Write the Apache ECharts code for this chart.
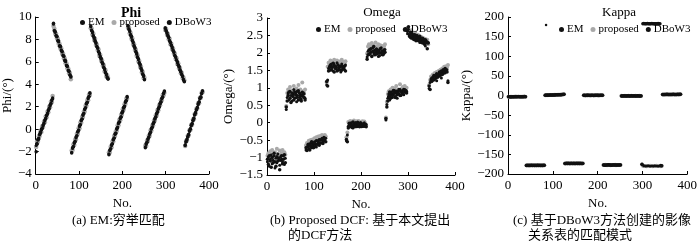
<!DOCTYPE html>
<html>
<head>
<meta charset="utf-8">
<script src="https://cdn.jsdelivr.net/npm/echarts@6/dist/echarts.min.js"></script>
<style>
  html, body { margin: 0; background: #fff; }
  #main { width: 700px; height: 241px; }
</style>
</head>
<body>
<div id="main"></div>
<script>
// frame numbers (every second frame of the sequence)
const frameNo = [];
for (let f = 1; f <= 385; f += 2) frameNo.push(f);

// Phi (deg)
const phiEM = [
  -1.45, -1.25, -0.98, -0.8, -0.52, -0.36, -0.1, 0.12, 0.3, 0.56, 0.74, 1.0, 1.18, 1.44, 1.62, 1.88, 2.06, 2.32, 2.5, 2.8,
  9.35, 8.82, 8.62, 8.38, 8.22, 7.93, 7.78, 7.48, 7.32, 7.08, 6.87, 6.62, 6.47, 6.18, 6.02, 5.72, 5.57, 5.28, 5.12, 4.88, 4.62,
  -2.05, -1.72, -1.52, -1.28, -1.06, -0.78, -0.56, -0.28, -0.06, 0.22, 0.44, 0.72, 0.93, 1.22, 1.43, 1.72, 1.93, 2.22, 2.43, 2.72, 2.93, 3.18,
  9.12, 8.87, 8.58, 8.37, 8.08, 7.92, 7.63, 7.42, 7.18, 6.97, 6.68, 6.52, 6.23, 6.02, 5.78, 5.57, 5.28, 5.12, 4.83, 4.67, 4.45,
  -2.2, -1.93, -1.72, -1.48, -1.27, -0.98, -0.77, -0.48, -0.32, -0.03, 0.18, 0.47, 0.68, 0.92, 1.13, 1.42, 1.63, 1.87, 2.08, 2.37, 2.58, 2.83,
  9.18, 8.97, 8.68, 8.47, 8.18, 7.97, 7.68, 7.47, 7.18, 6.97, 6.68, 6.47, 6.18, 5.97, 5.68, 5.47, 5.18, 4.97, 4.68, 4.45,
  -1.58, -1.37, -1.12, -0.92, -0.68, -0.47, -0.23, -0.02, 0.22, 0.43, 0.67, 0.88, 1.12, 1.33, 1.57, 1.78, 2.02, 2.23, 2.47, 2.68, 2.92, 3.13, 3.35,
  8.98, 8.82, 8.53, 8.37, 8.13, 7.92, 7.68, 7.52, 7.23, 7.07, 6.83, 6.62, 6.38, 6.22, 5.93, 5.77, 5.53, 5.32, 5.08, 4.92, 4.68, 4.47, 4.27,
  -1.38, -1.17, -0.88, -0.72, -0.43, -0.22, 0.07, 0.28, 0.52, 0.73, 1.02, 1.23, 1.52, 1.68, 1.97, 2.18, 2.47, 2.68, 2.92, 3.13, 3.38
];
const phiProposed = [
  -1.6, -1.1, -1.12, -0.65, -0.62, -0.22, -0.25, 0.25, 0.18, 0.68, 0.62, 1.12, 1.05, 1.55, 1.5, 2.0, 1.95, 2.45, 2.4, 2.95,
  9.2, 8.95, 8.5, 8.5, 8.08, 8.05, 7.62, 7.6, 7.18, 7.2, 6.72, 6.75, 6.3, 6.3, 5.88, 5.85, 5.42, 5.4, 4.98, 5.0, 4.45,
  -1.9, -1.85, -1.38, -1.42, -0.92, -0.92, -0.42, -0.42, 0.08, 0.08, 0.58, 0.58, 1.08, 1.08, 1.58, 1.58, 2.08, 2.08, 2.58, 2.58, 3.08, 3.05,
  9.0, 8.98, 8.45, 8.5, 7.95, 8.05, 7.5, 7.55, 7.05, 7.1, 6.55, 6.62, 6.1, 6.15, 5.65, 5.7, 5.15, 5.25, 4.7, 4.8, 4.55,
  -2.05, -2.08, -1.58, -1.62, -1.12, -1.1, -0.62, -0.62, -0.18, -0.15, 0.32, 0.35, 0.82, 0.8, 1.28, 1.28, 1.78, 1.75, 2.22, 2.25, 2.72, 2.7,
  9.05, 9.08, 8.55, 8.58, 8.05, 8.08, 7.55, 7.58, 7.05, 7.08, 6.55, 6.58, 6.05, 6.08, 5.55, 5.58, 5.05, 5.1, 4.55, 4.58,
  -1.45, -1.5, -1.02, -1.05, -0.58, -0.6, -0.12, -0.12, 0.32, 0.32, 0.78, 0.78, 1.22, 1.22, 1.68, 1.68, 2.12, 2.12, 2.58, 2.58, 3.02, 3.02, 3.25,
  8.85, 8.92, 8.42, 8.48, 8.02, 8.05, 7.58, 7.62, 7.12, 7.18, 6.72, 6.75, 6.28, 6.32, 5.82, 5.88, 5.42, 5.45, 4.98, 5.02, 4.55, 4.6, 4.35,
  -1.5, -1.05, -1.02, -0.58, -0.55, -0.1, -0.08, 0.4, 0.4, 0.85, 0.88, 1.35, 1.38, 1.82, 1.85, 2.3, 2.32, 2.8, 2.8, 3.25, 3.28
];
const phiDBoW3 = [
  -2.02, -1.35, -0.9, -0.88, -0.45, -0.28, -0.02, 0.05, 0.38, 0.48, 0.82, 0.92, 1.25, 1.35, 1.7, 1.8, 2.15, 2.25, 2.6, 2.72,
  9.45, 8.75, 8.7, 8.3, 8.28, 7.85, 7.85, 7.4, 7.4, 7.0, 6.95, 6.55, 6.52, 6.1, 6.1, 5.65, 5.62, 5.2, 5.18, 4.8, 4.72,
  -2.12, -1.65, -1.58, -1.2, -1.12, -0.7, -0.62, -0.2, -0.12, 0.3, 0.38, 0.8, 0.88, 1.3, 1.38, 1.8, 1.88, 2.3, 2.38, 2.8, 2.88, 3.25,
  9.2, 8.78, 8.68, 8.28, 8.18, 7.82, 7.72, 7.35, 7.25, 6.88, 6.78, 6.42, 6.32, 5.95, 5.85, 5.48, 5.38, 5.02, 4.92, 4.58, 4.5,
  -2.28, -1.85, -1.78, -1.4, -1.32, -0.9, -0.82, -0.42, -0.38, 0.05, 0.12, 0.55, 0.62, 1.0, 1.05, 1.48, 1.55, 1.95, 2.02, 2.45, 2.5, 2.9,
  9.25, 8.88, 8.78, 8.38, 8.28, 7.88, 7.78, 7.38, 7.28, 6.88, 6.78, 6.38, 6.28, 5.88, 5.78, 5.38, 5.28, 4.88, 4.78, 4.4,
  -1.65, -1.28, -1.2, -0.85, -0.75, -0.4, -0.3, 0.05, 0.15, 0.5, 0.6, 0.95, 1.05, 1.4, 1.5, 1.85, 1.95, 2.3, 2.4, 2.75, 2.85, 3.2, 3.4,
  9.05, 8.75, 8.62, 8.3, 8.2, 7.85, 7.75, 7.45, 7.32, 7.0, 6.9, 6.55, 6.45, 6.15, 6.02, 5.7, 5.6, 5.25, 5.15, 4.85, 4.75, 4.4, 4.22,
  -1.45, -1.1, -0.95, -0.65, -0.5, -0.15, 0.0, 0.35, 0.45, 0.8, 0.95, 1.3, 1.45, 1.75, 1.9, 2.25, 2.4, 2.75, 2.85, 3.2, 3.42
];

// Omega (deg)
const omegaEM = [
  -1.12, -0.98, -1.25, -1.05, -0.92, -1.18, -1.08, -0.95, -1.3, -1.02, -1.15, -0.9, -1.08, -1.22, -0.98, -1.05, -1.12, -0.95, -1.2, -1.02,
  0.38, 0.72, 0.85, 0.65, 0.9, 0.78, 0.62, 0.82, 0.95, 0.7, 0.85, 0.6, 0.78, 0.92, 0.72, 0.8, 0.68, 0.88, 0.75, 0.82, 0.7,
  -0.78, -0.7, -0.62, -0.75, -0.65, -0.58, -0.72, -0.6, -0.68, -0.55, -0.62, -0.7, -0.52, -0.6, -0.48, -0.58, -0.5, -0.45, -0.55, -0.42, -0.5, -0.45,
  1.08, 1.22, 1.55, 1.62, 1.5, 1.68, 1.58, 1.48, 1.65, 1.55, 1.6, 1.72, 1.5, 1.58, 1.62, 1.45, 1.68, 1.55, 1.6, 1.52, 1.65,
  -0.52, -0.35, -0.1, -0.05, -0.12, 0.0, -0.08, -0.15, -0.02, -0.1, -0.05, -0.12, 0.02, -0.08, -0.1, -0.03, -0.12, -0.06, -0.1, 0.0, -0.08, -0.05,
  1.88, 2.05, 1.95, 2.1, 2.02, 1.92, 2.15, 2.0, 2.08, 1.95, 2.12, 2.02, 1.9, 2.08, 2.0, 2.15, 1.95, 2.05, 1.98, 2.1,
  0.08, 0.52, 0.7, 0.82, 0.65, 0.78, 0.88, 0.72, 0.8, 0.92, 0.75, 0.85, 0.7, 0.9, 0.82, 0.95, 0.78, 0.88, 0.92, 0.8, 0.95, 0.88, 0.9,
  2.55, 2.68, 2.48, 2.6, 2.42, 2.55, 2.45, 2.38, 2.52, 2.4, 2.48, 2.35, 2.45, 2.3, 2.42, 2.38, 2.28, 2.4, 2.32, 2.2, 2.35, 2.28, 2.3,
  0.98, 1.15, 1.25, 1.18, 1.3, 1.22, 1.35, 1.28, 1.2, 1.38, 1.32, 1.42, 1.35, 1.28, 1.45, 1.4, 1.5, 1.42, 1.48, 1.52, 1.2
];
const omegaProposed = [
  -0.95, -0.88, -1.05, -0.82, -0.98, -0.78, -0.92, -1.0, -0.85, -0.95, -0.75, -0.9, -0.98, -0.8, -0.92, -0.88, -0.78, -0.95, -0.85, -0.92,
  0.48, 0.85, 0.95, 0.8, 1.02, 0.88, 0.92, 0.78, 1.05, 0.9, 0.82, 0.98, 0.88, 1.08, 0.85, 0.95, 0.8, 1.15, 0.9, 0.85, 0.95,
  -0.65, -0.58, -0.68, -0.52, -0.6, -0.5, -0.62, -0.48, -0.55, -0.45, -0.52, -0.42, -0.5, -0.4, -0.48, -0.38, -0.45, -0.35, -0.42, -0.38, -0.35, -0.4,
  1.15, 1.6, 1.72, 1.65, 1.78, 1.68, 1.75, 1.62, 1.8, 1.7, 1.66, 1.78, 1.72, 1.65, 1.75, 1.7, 1.8, 1.68, 1.74, 1.7, 1.76,
  -0.42, -0.28, 0.02, -0.02, 0.05, -0.05, 0.03, -0.02, 0.06, 0.0, -0.04, 0.04, 0.0, 0.05, -0.03, 0.02, -0.05, 0.04, 0.0, 0.03, -0.02, -0.08,
  1.98, 2.18, 2.25, 2.1, 2.2, 2.28, 2.12, 2.22, 2.15, 2.3, 2.18, 2.1, 2.25, 2.15, 2.22, 2.12, 2.2, 2.08, 2.18, 2.25,
  0.15, 0.6, 0.82, 0.9, 0.78, 0.95, 0.85, 1.0, 0.88, 0.98, 0.82, 1.05, 0.9, 0.95, 0.88, 1.1, 0.92, 0.98, 1.02, 0.9, 1.05, 0.95, 1.0,
  2.72, 2.58, 2.62, 2.5, 2.65, 2.48, 2.55, 2.45, 2.58, 2.5, 2.42, 2.52, 2.4, 2.48, 2.38, 2.45, 2.35, 2.42, 2.3, 2.4, 2.32, 2.38, 2.25,
  1.08, 1.22, 1.32, 1.25, 1.38, 1.3, 1.42, 1.35, 1.45, 1.38, 1.48, 1.42, 1.52, 1.45, 1.55, 1.5, 1.6, 1.52, 1.62, 1.58, 1.65
];
const omegaDBoW3 = [
  -1.05, -1.2, -0.95, -1.1, -1.28, -1.0, -1.15, -0.88, -1.12, -1.25, -0.98, -1.1, -1.02, -1.35, -1.08, -0.95, -1.18, -1.05, -0.92, -1.15,
  0.45, 0.62, 0.78, 0.88, 0.7, 0.58, 0.85, 0.75, 0.65, 0.88, 0.8, 0.72, 0.9, 0.65, 0.85, 0.75, 0.62, 0.8, 0.85, 0.72, 0.65,
  -0.72, -0.8, -0.68, -0.62, -0.78, -0.7, -0.55, -0.65, -0.72, -0.6, -0.68, -0.52, -0.62, -0.55, -0.65, -0.5, -0.58, -0.48, -0.6, -0.52, -0.45, -0.55,
  1.18, 1.05, 1.48, 1.58, 1.65, 1.52, 1.6, 1.7, 1.45, 1.62, 1.55, 1.48, 1.65, 1.58, 1.52, 1.62, 1.5, 1.6, 1.55, 1.62, 1.48,
  -0.48, -0.55, -0.15, -0.02, -0.1, -0.05, -0.14, 0.02, -0.08, -0.12, 0.0, -0.06, -0.1, -0.04, -0.12, 0.0, -0.08, -0.1, -0.03, -0.1, -0.05, -0.12,
  1.82, 1.95, 2.08, 1.98, 2.12, 1.9, 2.05, 2.18, 1.95, 2.02, 2.1, 1.98, 2.05, 1.92, 2.12, 2.0, 2.05, 1.95, 2.08, 2.02,
  0.12, 0.45, 0.62, 0.75, 0.88, 0.7, 0.82, 0.78, 0.92, 0.85, 0.72, 0.9, 0.8, 0.85, 0.95, 0.78, 0.9, 0.85, 0.82, 0.95, 0.88, 0.92, 0.85,
  2.62, 2.75, 2.52, 2.45, 2.58, 2.5, 2.4, 2.52, 2.45, 2.35, 2.5, 2.42, 2.38, 2.48, 2.35, 2.3, 2.42, 2.35, 2.25, 2.38, 2.3, 2.12, 2.28,
  1.05, 0.95, 1.2, 1.28, 1.22, 1.35, 1.25, 1.32, 1.4, 1.3, 1.38, 1.45, 1.4, 1.48, 1.38, 1.52, 1.45, 1.55, 1.5, 1.45, 1.15
];

// Kappa (deg)
const kappaEM = [
  -3.5, -3.2, -3.8, -3.0, -3.4, -2.8, -3.6, -3.1, -3.3, -2.9, -3.5, -3.0, -3.2, -2.7, -3.4, -3.1, -2.9, -3.3, -3.0, -2.8,
  -178.2, -177.8, -178.5, -177.6, -178.0, -178.3, -177.9, -178.1, -177.7, -178.4, -178.0, -177.8, -178.2, -177.6, -178.1, -177.9, -178.3, -177.7, -178.0, -177.8, -178.2,
  0.5, 179.5, 0.8, 1.2, 0.6, 1.0, 1.4, 0.9, 1.1, 1.5, 1.2, 1.6, 1.3, 1.8, 1.5, 2.0, 1.7, 2.2, 2.0, 2.5, 2.8, 3.2,
  -173.2, -172.8, -173.5, -173.0, -172.6, -173.3, -172.9, -173.1, -172.7, -173.4, -173.0, -172.8, -173.2, -172.6, -173.1, -172.9, -173.3, -172.7, -173.0, -172.8, -173.2,
  0.4, 0.8, 0.2, 0.6, 1.0, 0.3, 0.7, 0.5, 0.9, 0.2, 0.6, 0.4, 0.8, 0.3, 0.7, 0.5, 1.0, 0.4, 0.6, 0.2, 0.8, 0.5,
  -177.2, -176.8, -177.5, -176.9, -177.3, -176.7, -177.1, -177.4, -176.8, -177.2, -177.0, -176.6, -177.3, -176.9, -177.1, -177.5, -176.8, -177.2, -177.0, -176.7,
  -1.2, -0.8, -1.5, -1.0, -1.3, -0.9, -1.4, -1.1, -0.7, -1.2, -1.0, -1.5, -0.8, -1.3, -1.1, -0.9, -1.4, -1.0, -1.2, -0.8, -1.3, -1.1, -0.9,
  -175.5, -178.0, -179.6, -179.2, -180.0, -179.4, -179.8, -179.1, -179.6, -180.1, -179.3, -179.7, -179.5, -180.0, -179.2, -179.8, -179.4, -179.6, -180.0, -179.3, -179.7, -179.5, -179.9,
  2.2, 2.6, 2.4, 2.8, 2.3, 2.7, 2.5, 2.9, 2.4, 2.6, 2.8, 2.3, 2.7, 2.5, 3.0, 2.6, 2.4, 2.8, 2.5, 2.7, 2.9
];
const kappaProposed = [
  -3.2, -3.6, -2.9, -3.4, -3.1, -3.7, -3.0, -3.3, -2.8, -3.5, -3.2, -3.6, -2.9, -3.3, -3.0, -3.4, -3.1, -2.8, -3.5, -3.2,
  -177.9, -178.3, -177.7, -178.1, -178.4, -177.8, -178.2, -177.6, -178.0, -178.3, -177.9, -178.1, -177.7, -178.2, -178.0, -177.8, -178.4, -178.1, -177.9, -178.2, -178.0,
  0.7, 0.9, 1.1, 0.8, 1.3, 1.0, 1.2, 1.5, 1.1, 1.4, 1.6, 1.3, 1.7, 1.5, 1.9, 1.6, 2.1, 1.9, 2.3, 2.4, 2.9, 3.0,
  -173.4, -173.0, -172.7, -173.3, -172.9, -173.1, -173.5, -172.8, -173.2, -172.9, -173.3, -173.0, -172.7, -173.4, -172.9, -173.2, -173.0, -173.4, -172.8, -173.1, -172.9,
  0.6, 0.3, 0.9, 0.5, 0.2, 0.8, 0.4, 0.7, 0.3, 0.9, 0.5, 0.6, 0.2, 0.8, 0.4, 0.9, 0.3, 0.7, 0.5, 0.8, 0.4, 0.6,
  -176.9, -177.3, -176.7, -177.1, -177.5, -176.8, -177.2, -176.9, -177.4, -177.0, -176.8, -177.3, -177.1, -176.7, -177.4, -177.0, -177.2, -176.9, -177.3, -177.1,
  -0.9, -1.3, -1.0, -1.4, -0.8, -1.2, -1.1, -1.5, -0.9, -1.3, -1.2, -0.8, -1.4, -1.0, -1.2, -1.3, -0.9, -1.1, -1.4, -1.0, -0.8, -1.2, -1.0,
  -176.0, -179.2, -179.8, -179.5, -179.3, -180.0, -179.6, -179.4, -179.9, -179.2, -179.7, -179.5, -180.1, -179.3, -179.6, -179.8, -179.2, -179.9, -179.5, -179.7, -179.4, -180.0, -179.6,
  2.4, 2.2, 2.7, 2.5, 2.9, 2.4, 2.6, 2.3, 2.8, 2.7, 2.5, 2.9, 2.4, 2.6, 2.8, 2.7, 2.5, 2.9, 2.6, 2.8, 3.1
];
const kappaDBoW3 = [
  -2.9, -3.3, -3.0, -3.6, -3.2, -3.0, -3.4, -2.9, -3.5, -3.1, -3.3, -2.8, -3.4, -3.1, -3.2, -2.9, -3.3, -3.0, -2.7, -3.0,
  -178.1, -177.7, -178.3, -177.9, -178.2, -177.6, -178.0, -178.4, -177.8, -178.1, -177.9, -178.3, -177.7, -178.0, -178.2, -177.8, -178.1, -177.9, -178.3, -178.0, -177.8,
  0.6, 1.0, 0.7, 1.1, 0.9, 1.3, 1.0, 1.2, 1.4, 1.3, 1.5, 1.4, 1.6, 1.7, 1.6, 1.8, 1.9, 2.0, 2.2, 2.6, 2.7, 3.4,
  -173.0, -173.3, -172.9, -173.2, -172.7, -173.4, -173.0, -172.8, -173.3, -173.1, -172.7, -173.2, -173.0, -172.9, -173.3, -172.8, -173.1, -172.9, -173.2, -173.0, -173.1,
  0.5, 0.7, 0.3, 0.9, 0.4, 0.6, 0.8, 0.2, 0.7, 0.5, 0.9, 0.3, 0.6, 0.8, 0.4, 0.7, 0.5, 0.3, 0.9, 0.6, 0.4, 0.7,
  -177.1, -176.8, -177.4, -177.0, -176.9, -177.3, -176.7, -177.2, -177.0, -177.5, -176.9, -177.1, -176.8, -177.3, -177.0, -176.8, -177.3, -177.1, -176.9, -177.2,
  -1.1, -1.0, -1.3, -0.8, -1.2, -1.4, -1.0, -0.9, -1.3, -1.1, -1.4, -0.9, -1.2, -1.0, -0.8, -1.3, -1.1, -1.2, -0.9, -1.4, -1.0, -1.2, -1.1,
  -175.0, 182.8, 183.2, 182.6, 183.0, 182.9, 183.3, 182.7, 183.1, 182.8, 183.0, 183.2, 182.7, 182.9, 183.1, 182.8, 183.0, 182.6, 183.2, 182.9, 183.0, -178.5, -179.0,
  2.5, 2.3, 2.8, 2.6, 2.4, 2.9, 2.5, 2.7, 2.3, 2.8, 2.6, 2.4, 2.9, 2.7, 2.5, 2.8, 2.6, 3.0, 2.7, 2.9, 3.2
];

const serif = 'Liberation Serif';
const cjk = "'Liberation Serif', 'Noto Sans CJK SC', serif";
const black = '#111';
const gray = '#a9a9a9';
const minus = v => String(v).replace('-', '\u2212');

function xAxisFor(i) {
  return {
    gridIndex: i, type: 'value', min: 0, max: 400, interval: 100,
    name: 'No.', nameLocation: 'middle', nameGap: 21,
    nameTextStyle: { color: '#000', fontFamily: serif, fontSize: 13 },
    axisLine: { onZero: false, lineStyle: { color: '#000', width: 1 } },
    axisTick: { inside: true, length: 3, lineStyle: { color: '#000' } },
    axisLabel: { color: '#000', fontFamily: serif, fontSize: 13, margin: 5 },
    splitLine: { show: false }
  };
}
function yAxisFor(i, name, min, max, step, gap) {
  return {
    gridIndex: i, type: 'value', min: min, max: max, interval: step,
    name: name, nameLocation: 'middle', nameGap: gap,
    nameTextStyle: { color: '#000', fontFamily: serif, fontSize: 13 },
    axisLine: { show: true, onZero: false, lineStyle: { color: '#000', width: 1 } },
    axisTick: { show: true, inside: true, length: 3, lineStyle: { color: '#000' } },
    axisLabel: { color: '#000', fontFamily: serif, fontSize: 13, margin: 4, formatter: minus },
    splitLine: { show: false }
  };
}
function dots(name, vals, i, color, size) {
  return {
    name: name, type: 'scatter', xAxisIndex: i, yAxisIndex: i,
    symbol: 'circle', symbolSize: size, silent: true,
    itemStyle: { color: color, opacity: 1 },
    data: vals.map((v, k) => [frameNo[k], v])
  };
}
function legendFor(left, top) {
  return {
    left: left, top: top, padding: 0, width: 160,
    itemWidth: 5, itemHeight: 5, itemGap: 7,
    icon: 'circle', selectedMode: false,
    data: ['EM', 'proposed', 'DBoW3'],
    textStyle: { color: '#000', fontFamily: serif, fontSize: 11, padding: [0, 0, 0, -2] }
  };
}
function caption(x, y, text) {
  return { type: 'text', left: x, top: y,
    style: { text: text, font: '13px ' + cjk, fill: '#000' } };
}

const chart = echarts.init(document.getElementById('main'), null, { renderer: 'canvas' });
chart.setOption({
  animation: false,
  backgroundColor: '#fff',
  title: [
    { text: 'Phi', left: 126, top: 1, textAlign: 'center', textStyle: { fontFamily: serif, fontSize: 14, fontWeight: 'bold', color: '#000' } },
    { text: 'Omega', left: 377, top: 1, textAlign: 'center', textStyle: { fontFamily: serif, fontSize: 13, fontWeight: 'normal', color: '#000' } },
    { text: 'Kappa', left: 614, top: 1, textAlign: 'center', textStyle: { fontFamily: serif, fontSize: 13, fontWeight: 'normal', color: '#000' } }
  ],
  legend: [legendFor(80, 17), legendFor(316, 24), legendFor(559, 24)],
  grid: [
    { left: 26, top: 17, width: 183, height: 157 },
    { left: 267, top: 18, width: 188, height: 157 },
    { left: 508, top: 17, width: 184, height: 157 }
  ],
  xAxis: [xAxisFor(0), xAxisFor(1), xAxisFor(2)],
  yAxis: [
    yAxisFor(0, 'Phi/(°)', -4, 10, 2, 11),
    yAxisFor(1, 'Omega/(°)', -1.5, 3, 0.5, 18),
    yAxisFor(2, 'Kappa/(°)', -200, 200, 50, 29)
  ],
  series: [
    dots('proposed', phiProposed, 0, gray, 4.5),
    dots('EM', phiEM, 0, black, 3),
    dots('DBoW3', phiDBoW3, 0, black, 3.5),
    dots('proposed', omegaProposed, 1, gray, 4),
    dots('EM', omegaEM, 1, black, 3),
    dots('DBoW3', omegaDBoW3, 1, black, 3.5),
    dots('proposed', kappaProposed, 2, gray, 4),
    dots('EM', kappaEM, 2, black, 2.5),
    dots('DBoW3', kappaDBoW3, 2, black, 3.5)
  ],
  graphic: [
    caption(72, 214, '(a) EM:穷举匹配'),
    caption(270, 214, '(b) Proposed DCF: 基于本文提出'),
    caption(288, 229, '的DCF方法'),
    caption(513, 214, '(c) 基于DBoW3方法创建的影像'),
    caption(528, 229, '关系表的匹配模式')
  ]
});
</script>
</body>
</html>
